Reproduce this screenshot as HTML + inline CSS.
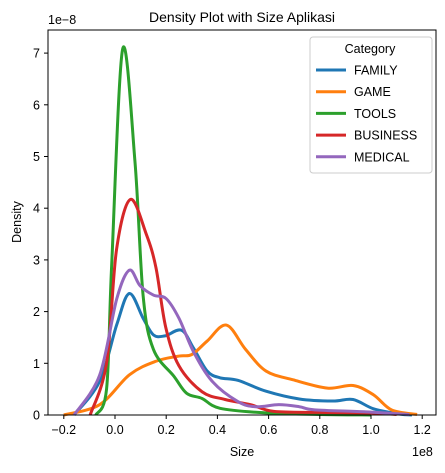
<!DOCTYPE html>
<html><head><meta charset="utf-8"><style>
body{margin:0;background:#fff;}
svg{font-family:"Liberation Sans","DejaVu Sans",sans-serif;}
</style></head><body>
<svg id="chart" width="445" height="468" viewBox="0 0 445 468">
<text x="242" y="22" font-size="14" text-anchor="middle">Density Plot with Size Aplikasi</text>
<g id="curves"></g>
<rect x="48" y="30" width="388" height="385" fill="none" stroke="#000" stroke-width="1"/>
<g id="xt"></g>
<g id="yt"></g>
<text x="242" y="456" font-size="12.5" text-anchor="middle">Size</text>
<text x="412" y="456" font-size="12.5">1e8</text>
<text transform="translate(21,222) rotate(-90)" font-size="12.5" text-anchor="middle">Density</text>
<text x="48" y="24" font-size="12.5">1e−8</text>
<g id="legend">
<rect x="310" y="37" width="122" height="136" rx="3" fill="#fff" fill-opacity="0.8" stroke="#ccc"/>
<text x="370" y="53" font-size="12.5" text-anchor="middle">Category</text>
</g>
</svg>
<script>
const categories=["FAMILY","GAME","TOOLS","BUSINESS","MEDICAL"];
const colors=["#1f77b4","#ff7f0e","#2ca02c","#d62728","#9467bd"];
// x in 1e7 units, y in 1e-8 units
const familyX=[-1.6,-0.6,0.07,0.56,1.1,1.5,1.95,2.6,3.06,3.6,4.1,4.8,5.9,7.2,8.5,9.3,10.1,11.1,11.6];
const familyY=[0,0.65,1.75,2.35,1.87,1.55,1.53,1.64,1.3,0.85,0.72,0.67,0.46,0.31,0.27,0.3,0.12,0.02,0];
const gameX=[-2.0,-0.6,0.57,1.6,2.5,3.0,3.6,4.35,5.1,5.9,6.96,8.3,9.3,10.1,10.8,11.8];
const gameY=[0,0.2,0.78,1.04,1.14,1.17,1.43,1.74,1.27,0.85,0.68,0.52,0.57,0.39,0.1,0.01];
const toolsX=[-0.75,-0.33,-0.13,0.3,0.78,1.1,1.5,2.3,2.8,3.4,4.1,5.9,8,10];
const toolsY=[0,0.5,2.9,7.08,4.9,2.3,1.27,0.75,0.42,0.32,0.13,0.04,0.01,0];
const businessX=[-0.97,-0.33,0.06,0.6,1.22,1.6,1.98,2.5,3.4,4.3,5.3,6.2,8,10,11];
const businessY=[0,1,3.2,4.17,3.5,2.85,1.7,0.95,0.45,0.3,0.2,0.07,0.05,0.04,0.01];
const medicalX=[-1.6,-0.6,0.07,0.56,0.98,1.5,2.0,2.5,3.06,3.8,4.8,5.5,6.4,7.2,7.8,9.8,11.5];
const medicalY=[0,0.77,2.25,2.8,2.5,2.32,2.25,1.87,1.23,0.65,0.26,0.16,0.2,0.16,0.1,0.06,0.01];
const seriesX=[familyX,gameX,toolsX,businessX,medicalX];
const seriesY=[familyY,gameY,toolsY,businessY,medicalY];
const xTicks=[-2,0,2,4,6,8,10,12];
const xTickLabels=["−0.2","0.0","0.2","0.4","0.6","0.8","1.0","1.2"];
const yTicks=[0,1,2,3,4,5,6,7];
const NS="http://www.w3.org/2000/svg";
function sx(v){return 115+v*25.6;}
function sy(v){return 415-v*51.7;}
function mk(t,a,p){const e=document.createElementNS(NS,t);for(const k in a)e.setAttribute(k,a[k]);p.appendChild(e);return e;}
function smooth(xs,ys){const P=xs.map((x,i)=>[sx(x),sy(ys[i])]);let d="M"+P[0][0]+","+P[0][1];
for(let i=0;i<P.length-1;i++){const p0=P[Math.max(0,i-1)],p1=P[i],p2=P[i+1],p3=P[Math.min(P.length-1,i+2)];
let c1y=p1[1]+(p2[1]-p0[1])/6,c2y=p2[1]-(p3[1]-p1[1])/6;c1y=Math.min(c1y,415);c2y=Math.min(c2y,415);
d+=" C"+(p1[0]+(p2[0]-p0[0])/6)+","+c1y+" "+(p2[0]-(p3[0]-p1[0])/6)+","+c2y+" "+p2[0]+","+p2[1];}return d;}
const cg=document.getElementById("curves");
[0,1,2,3,4].forEach(i=>{const p=mk("path",{d:smooth(seriesX[i],seriesY[i]),fill:"none",stroke:colors[i],"stroke-width":3,"stroke-linejoin":"round"},cg);

});
const xg=document.getElementById("xt");
xTicks.forEach((t,i)=>{mk("line",{x1:sx(t),x2:sx(t),y1:415,y2:419,stroke:"#000"},xg);
const tx=mk("text",{x:sx(t),y:434,"font-size":12.5,"text-anchor":"middle"},xg);tx.textContent=xTickLabels[i];

});
const yg=document.getElementById("yt");
yTicks.forEach(t=>{mk("line",{x1:44,x2:48,y1:sy(t),y2:sy(t),stroke:"#000"},yg);
const tx=mk("text",{x:40,y:sy(t)+4.5,"font-size":12.5,"text-anchor":"end"},yg);tx.textContent=t;

});
const lg=document.getElementById("legend");
categories.forEach((c,i)=>{const y=70+i*21.7;
const l=mk("line",{x1:316,x2:346,y1:y,y2:y,stroke:colors[i],"stroke-width":3},lg);


const t=mk("text",{x:354,y:y+4.5,"font-size":12.5},lg);t.textContent=c;

});
</script>
</body></html>
